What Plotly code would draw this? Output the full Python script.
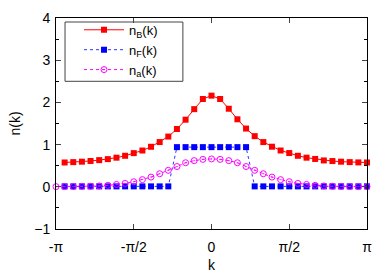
import numpy as np
import plotly.graph_objects as go

# k grid in degrees (converted to radians for plotting)
k_deg_BF = list(range(-170, 190, 10))   # 36 points
k_deg_a = list(range(-180, 190, 10))    # 37 points

n_B = [0.576, 0.585, 0.595, 0.612, 0.632, 0.656, 0.69, 0.735, 0.798, 0.86,
       0.948, 1.06, 1.19, 1.37, 1.59, 1.84, 2.08, 2.16, 2.08, 1.85,
       1.60, 1.38, 1.20, 1.06, 0.95, 0.86, 0.80, 0.735, 0.69, 0.66,
       0.625, 0.61, 0.595, 0.585, 0.578, 0.576]

n_F = [0.01] * 13 + [0.94] * 9 + [0.01] * 14

n_a = [0.004, 0.004, 0.005, 0.008, 0.012, 0.02, 0.035, 0.055, 0.08, 0.12,
       0.17, 0.23, 0.31, 0.39, 0.48, 0.57, 0.62, 0.65, 0.66, 0.65,
       0.62, 0.57, 0.48, 0.39, 0.31, 0.23, 0.17, 0.12, 0.08, 0.055,
       0.035, 0.02, 0.012, 0.008, 0.005, 0.004, 0.004]

x_tick_vals = [-np.pi, -np.pi / 2, 0, np.pi / 2, np.pi]
x_tick_text = ["-π", "-π/2", "0", "π/2", "π"]
y_tick_vals = [-1, 0, 1, 2, 3, 4]

kBF = np.radians(k_deg_BF)
ka = np.radians(k_deg_a)

fig = go.Figure()
fig.add_trace(go.Scatter(
    x=kBF, y=n_B, mode="lines+markers", name="n<sub>B</sub>(k)",
    line=dict(color="#ff0000", width=1),
    marker=dict(symbol="square", size=6, color="#ff0000"),
    cliponaxis=False))
fig.add_trace(go.Scatter(
    x=kBF, y=n_F, mode="lines+markers", name="n<sub>F</sub>(k)",
    line=dict(color="#3333ff", width=1, dash="dot"),
    marker=dict(symbol="square", size=6, color="#0000ff"),
    cliponaxis=False))
fig.add_trace(go.Scatter(
    x=ka, y=n_a, mode="lines+markers", name="n<sub>a</sub>(k)",
    line=dict(color="#ff00ff", width=1, dash="dot"),
    marker=dict(symbol="circle-open-dot", size=6, color="#ff00ff", line=dict(width=1)),
    cliponaxis=False))

font = dict(family="Liberation Sans, Arial, sans-serif", size=13, color="black")

fig.update_layout(
    width=390, height=273,
    margin=dict(l=56, r=23, t=18, b=44),
    paper_bgcolor="white", plot_bgcolor="white",
    font=font,
    showlegend=True,
    legend=dict(x=0.074, y=1.015, xanchor="left", yanchor="top",
                borderwidth=0, bgcolor="rgba(0,0,0,0)",
                font=dict(family="Liberation Sans, Arial, sans-serif", size=13, color="black"),
                tracegroupgap=0, itemwidth=40),
    shapes=[dict(type="rect", xref="paper", yref="paper",
                 x0=0.029, x1=0.408, y0=0.70, y1=0.981,
                 line=dict(color="#444444", width=1), fillcolor="rgba(0,0,0,0)",
                 layer="above")],
)
fig.update_xaxes(
    range=[-np.pi, np.pi], tickvals=x_tick_vals, ticktext=x_tick_text,
    ticks="inside", ticklen=5, showline=True, linecolor="black", linewidth=1,
    mirror="allticks", showgrid=False, zeroline=False, automargin=False,
    tickfont=dict(size=14), ticklabelstandoff=5,
    title=dict(text="k", standoff=8, font=dict(size=14)))
fig.update_yaxes(
    range=[-1, 4], tickvals=y_tick_vals,
    ticks="inside", ticklen=5, showline=True, linecolor="black", linewidth=1,
    mirror="allticks", showgrid=False, zeroline=False, automargin=False,
    tickfont=dict(size=14), ticklabelstandoff=2,
    minor=dict(ticks="inside", dtick=0.5, ticklen=3, tickcolor="black"),
    title=dict(text="n(k)", standoff=10, font=dict(size=14)))

fig.write_html("out.html", config={"displayModeBar": False},
               post_script="document.body.style.margin='0';")
